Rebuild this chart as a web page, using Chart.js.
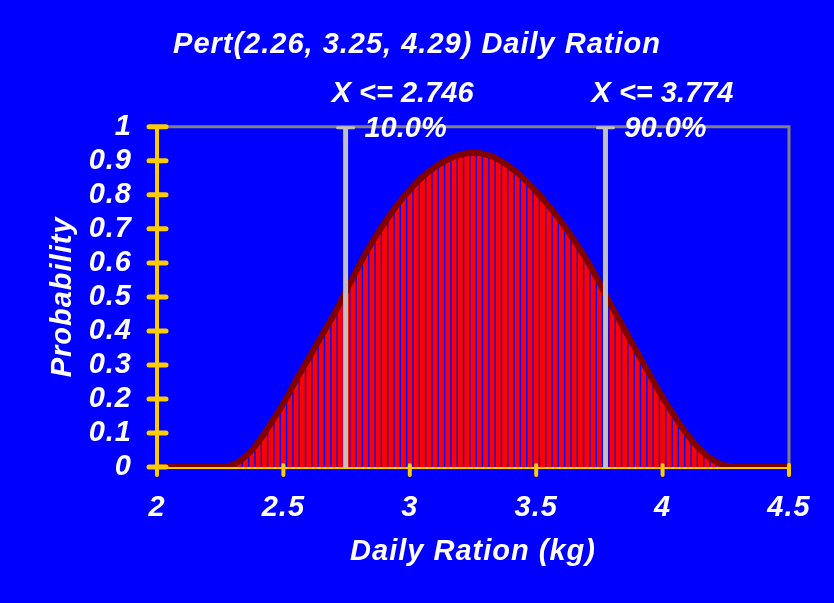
<!DOCTYPE html>
<html>
<head>
<meta charset="utf-8">
<script src="https://cdn.jsdelivr.net/npm/chart.js@4/dist/chart.umd.min.js"></script>
<style>
  html, body { margin: 0; padding: 0; background: #0000ff; }
  #wrap { width: 834px; height: 603px; }
</style>
</head>
<body>
<div id="wrap"><canvas id="pert-chart" width="834" height="603"></canvas></div>
<script>
const chartTitle = 'Pert(2.26, 3.25, 4.29) Daily Ration';
const xTitle = 'Daily Ration (kg)';
const yTitle = 'Probability';

// bins start at 2.0 kg, one every 0.025 kg up to 4.5 kg
const binStart = 2;
const binStep = 0.025;
const density = [
  0, 0, 0, 0, 0, 0, 0, 0, 0, 0,                                    // 2.000 - 2.225
  0, 0.002, 0.006, 0.016, 0.031, 0.049, 0.072, 0.099, 0.128, 0.157,  // 2.250 - 2.475
  0.187, 0.22, 0.256, 0.288, 0.32, 0.352, 0.384, 0.416, 0.448, 0.484,  // 2.500 - 2.725
  0.52, 0.557, 0.594, 0.628, 0.66, 0.69, 0.718, 0.745, 0.77, 0.793,    // 2.750 - 2.975
  0.815, 0.835, 0.853, 0.868, 0.882, 0.894, 0.904, 0.912, 0.918, 0.922, // 3.000 - 3.225
  0.924, 0.923, 0.919, 0.913, 0.904, 0.893, 0.88, 0.865, 0.848, 0.83,   // 3.250 - 3.475
  0.81, 0.789, 0.767, 0.744, 0.72, 0.694, 0.667, 0.638, 0.608, 0.576,   // 3.500 - 3.725
  0.541, 0.505, 0.47, 0.437, 0.404, 0.37, 0.337, 0.303, 0.27, 0.237,    // 3.750 - 3.975
  0.205, 0.175, 0.146, 0.118, 0.093, 0.07, 0.05, 0.033, 0.02, 0.01,     // 4.000 - 4.225
  0.004, 0.001, 0, 0, 0, 0, 0, 0, 0, 0,                                 // 4.250 - 4.475
  0                                                                      // 4.500
];

const markerValues = [2.746, 3.774];
const markerLabels = ['X <= 2.746', 'X <= 3.774'];
const markerPercents = ['10.0%', '90.0%'];

const points = density.map((y, i) => ({ x: +(binStart + i * binStep).toFixed(3), y }));

const FONT = "'Liberation Sans', Arial, sans-serif";
const YELLOW = '#ffcc00';
const textFont = { family: FONT, size: 29, weight: 'bold', style: 'italic' };
const plainNumber = (v) => String(+Number(v).toFixed(2));

const decorations = {
  id: 'decorations',
  beforeDraw(chart) {
    // the original text is set slightly loose
    chart.ctx.letterSpacing = '1px';
  },
  beforeDatasetsDraw(chart) {
    const { ctx, chartArea: a } = chart;
    ctx.letterSpacing = '0px';
    ctx.save();
    ctx.strokeStyle = '#808080';
    ctx.lineWidth = 3;
    ctx.beginPath();
    ctx.moveTo(a.left, a.top);
    ctx.lineTo(a.right, a.top);
    ctx.lineTo(a.right, a.bottom);
    ctx.stroke();
    ctx.restore();
  },
  afterDatasetsDraw(chart) {
    const { ctx, chartArea: a, scales: { x, y } } = chart;
    ctx.save();

    // percentile markers
    markerValues.forEach((v, i) => {
      const px = x.getPixelForValue(v);
      ctx.strokeStyle = '#c0c0c0';
      ctx.lineWidth = 5;
      ctx.beginPath();
      ctx.moveTo(px, a.top + 1);
      ctx.lineTo(px, a.bottom);
      ctx.stroke();
      ctx.lineWidth = 3;
      ctx.lineCap = 'round';
      ctx.beginPath();
      ctx.moveTo(px - 8, a.top + 1);
      ctx.lineTo(px + 8, a.top + 1);
      ctx.stroke();
      ctx.lineCap = 'butt';
      ctx.fillStyle = '#ffffff';
      ctx.font = `italic bold 29px ${FONT}`;
      ctx.textAlign = 'center';
      ctx.textBaseline = 'middle';
      ctx.fillText(markerLabels[i], px + 57, 94);
      ctx.fillText(markerPercents[i], px + 60, a.top + 2);
    });

    // yellow axes with crossing tick marks
    ctx.strokeStyle = YELLOW;
    ctx.lineCap = 'round';
    ctx.lineWidth = 2;
    ctx.beginPath();
    ctx.moveTo(a.left, a.bottom + 1);
    ctx.lineTo(a.right, a.bottom + 1);
    ctx.stroke();
    ctx.lineWidth = 4;
    ctx.beginPath();
    ctx.moveTo(a.left, a.top);
    ctx.lineTo(a.left, a.bottom + 7);
    ctx.stroke();
    ctx.lineWidth = 5;
    y.ticks.forEach((t) => {
      const py = y.getPixelForValue(t.value);
      ctx.beginPath();
      ctx.moveTo(a.left - 8, py);
      ctx.lineTo(a.left + 9, py);
      ctx.stroke();
    });
    ctx.lineWidth = 4;
    x.ticks.forEach((t) => {
      const px = x.getPixelForValue(t.value);
      ctx.beginPath();
      ctx.moveTo(px, a.bottom - 2);
      ctx.lineTo(px, a.bottom + 8);
      ctx.stroke();
    });
    ctx.restore();
  }
};

new Chart(document.getElementById('pert-chart'), {
  type: 'bar',
  data: {
    datasets: [
      {
        type: 'line',
        data: points,
        borderColor: '#800000',
        borderWidth: 6,
        pointRadius: 0,
        tension: 0,
        order: 0
      },
      {
        type: 'bar',
        data: points,
        backgroundColor: '#ff0000',
        borderWidth: 0,
        barPercentage: 0.78,
        categoryPercentage: 1,
        order: 1
      }
    ]
  },
  options: {
    responsive: false,
    animation: false,
    layout: { padding: 0 },
    plugins: {
      legend: { display: false },
      tooltip: { enabled: false },
      title: {
        display: true,
        text: chartTitle,
        color: '#ffffff',
        font: textFont,
        padding: { top: 28, bottom: 64 }
      }
    },
    scales: {
      x: {
        type: 'linear',
        offset: false,
        min: 2,
        max: 4.5,
        afterFit: (scale) => { scale.height = 136; },
        ticks: {
          stepSize: 0.5,
          autoSkip: false,
          color: '#ffffff',
          padding: 24,
          maxRotation: 0,
          font: textFont,
          callback: plainNumber
        },
        grid: { display: false, drawTicks: false },
        border: { display: false },
        title: {
          display: true,
          text: xTitle,
          color: '#ffffff',
          font: textFont,
          padding: { top: 0, bottom: 34 }
        }
      },
      y: {
        min: 0,
        max: 1,
        afterFit: (scale) => { scale.width = 157; },
        ticks: {
          stepSize: 0.1,
          autoSkip: false,
          color: '#ffffff',
          padding: 25,
          font: textFont,
          callback: plainNumber
        },
        grid: { display: false, drawTicks: false },
        border: { display: false },
        title: {
          display: true,
          text: yTitle,
          color: '#ffffff',
          font: textFont,
          padding: { top: 46, bottom: 0 }
        }
      },
      // empty strip on the right so the plot ends at 4.5 like the original
      margin: {
        position: 'right',
        display: true,
        afterFit: (scale) => { scale.width = 45; },
        ticks: { display: false },
        grid: { display: false, drawTicks: false },
        border: { display: false }
      }
    }
  },
  plugins: [decorations]
});
</script>
</body>
</html>
